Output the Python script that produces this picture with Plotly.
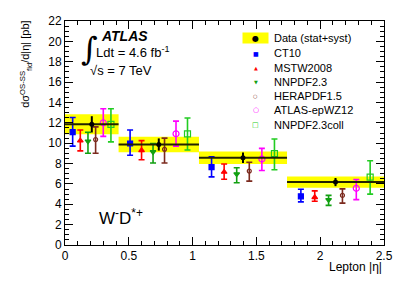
import plotly.graph_objects as go

# ---- data ----
bin_edges = [0.0, 0.42, 1.05, 1.74, 2.5]
data_vals = [11.85, 9.87, 8.57, 6.18]
data_stat = [0.80, 0.60, 0.52, 0.40]
data_total = [0.98, 0.77, 0.61, 0.55]

series_names = ["CT10", "MSTW2008", "NNPDF2.3", "HERAPDF1.5", "ATLAS-epWZ12", "NNPDF2.3coll"]
ct10 = [11.08, 9.97, 7.64, 4.78]
ct10_up = [12.52, 11.30, 8.66, 5.48]
ct10_dn = [9.71, 8.82, 6.69, 4.24]
mstw = [10.25, 9.30, 7.17, 4.68]
mstw_up = [11.30, 10.25, 7.96, 5.32]
mstw_dn = [9.24, 8.38, 6.46, 4.30]
nnpdf = [10.19, 9.14, 6.97, 4.43]
nnpdf_up = [11.08, 9.97, 7.58, 4.87]
nnpdf_dn = [9.01, 8.06, 6.11, 3.89]
hera = [10.35, 9.40, 7.26, 4.87]
hera_up = [11.60, 10.50, 8.12, 5.51]
hera_dn = [9.01, 8.06, 6.27, 4.11]
epwz = [12.00, 10.92, 8.44, 5.57]
epwz_up = [13.38, 12.17, 9.49, 6.43]
epwz_dn = [10.67, 9.71, 7.32, 4.46]
coll = [11.85, 10.92, 8.98, 6.66]
coll_up = [13.38, 12.48, 10.41, 8.28]
coll_dn = [10.13, 9.33, 7.39, 5.00]

x_tick_vals = [0, 0.5, 1, 1.5, 2, 2.5]
x_tick_text = ["0", "0.5", "1", "1.5", "2", "2.5"]
y_tick_vals = [0, 2, 4, 6, 8, 10, 12, 14, 16, 18, 20, 22]

# ---- layout (page body has an 8px default margin) ----
OFF = 8
W, H = 391, 276
L, T = 57, 6
R = W - (386 - OFF)
B = H - (245 - OFF)
pw, ph = W - L - R, H - T - B

def px(x):  # window pixel -> paper
    return (x - OFF - L) / pw

def py(y):
    return (H - B + OFF - y) / ph

centers = [(bin_edges[i] + bin_edges[i + 1]) / 2 for i in range(4)]
widths = [bin_edges[i + 1] - bin_edges[i] for i in range(4)]

fig = go.Figure()

# yellow total uncertainty band
fig.add_trace(go.Bar(
    x=centers, y=[2 * e for e in data_total],
    base=[v - e for v, e in zip(data_vals, data_total)],
    width=widths, marker=dict(color="#ffff00", line=dict(width=0)),
    showlegend=False, hoverinfo="skip"))

theory = [
    (ct10, ct10_up, ct10_dn, "#0000ff", "square", 5),
    (mstw, mstw_up, mstw_dn, "#ff0000", "triangle-up", 5),
    (nnpdf, nnpdf_up, nnpdf_dn, "#11a011", "triangle-down", 5),
    (hera, hera_up, hera_dn, "#7b2a1e", "circle-open", 4),
    (epwz, epwz_up, epwz_dn, "#ff00ff", "circle-open", 6),
    (coll, coll_up, coll_dn, "#22cc22", "square-open", 6),
]

for k, (vals, up, dn, col, sym, sz) in enumerate(theory):
    xs = [bin_edges[i] + (k + 1) * widths[i] / 7 for i in range(4)]
    fig.add_trace(go.Scatter(
        x=xs, y=vals, mode="markers", name=series_names[k],
        marker=dict(symbol=sym, color=col, size=sz, line=dict(color=col, width=1.2)),
        error_y=dict(type="data", symmetric=False,
                     array=[u - v for u, v in zip(up, vals)],
                     arrayminus=[v - d for v, d in zip(vals, dn)],
                     color=col, thickness=1.6, width=3),
        showlegend=False))

# data: horizontal line across bin + stat error bar
fig.add_trace(go.Scatter(
    x=centers, y=data_vals, mode="markers",
    marker=dict(symbol="circle", color="black", size=5),
    error_x=dict(type="data", array=[w / 2 for w in widths], color="#222200", thickness=2, width=0),
    error_y=dict(type="data", array=data_stat, color="black", thickness=2, width=0),
    showlegend=False))

font_main = "Liberation Sans, Arial, sans-serif"

axis_common = dict(
    showline=True, linecolor="black", linewidth=1, mirror="allticks",
    ticks="inside", tickcolor="black", ticklen=8, tickwidth=1,
    showgrid=False, zeroline=False,
    tickfont=dict(family=font_main, size=12, color="black"),
)

fig.update_xaxes(range=[0, 2.5], tickvals=x_tick_vals, ticktext=x_tick_text,
                 minor=dict(dtick=0.1, ticks="inside", ticklen=4, tickcolor="black", showgrid=False),
                 **axis_common)
fig.update_yaxes(range=[0, 22], tickvals=y_tick_vals,
                 minor=dict(dtick=0.5, ticks="inside", ticklen=4, tickcolor="black", showgrid=False),
                 **axis_common)

ann = []
# axis titles
ann.append(dict(text="dσ<sup>OS-SS</sup><sub>fid</sub>/d|η| [pb]", textangle=-90,
                x=px(25), y=py(12), xref="paper", yref="paper", xanchor="center", yanchor="top",
                showarrow=False, font=dict(family=font_main, size=11, color="black")))
ann.append(dict(text="Lepton |η|", x=1.0, y=py(268), xref="paper", yref="paper",
                xanchor="right", yanchor="middle", showarrow=False,
                font=dict(family=font_main, size=12, color="black")))
# ATLAS labels
ann.append(dict(text="<b><i>ATLAS</i></b>", x=px(99), y=py(29), xref="paper", yref="paper",
                xanchor="left", yanchor="middle", showarrow=False,
                font=dict(family=font_main, size=14, color="black")))
ann.append(dict(text="∫", x=px(79), y=py(43), xref="paper", yref="paper",
                xanchor="left", yanchor="middle", showarrow=False,
                font=dict(family="DejaVu Serif, serif", size=32, color="black")))
ann.append(dict(text="Ldt = 4.6 fb<sup>-1</sup>", x=px(94), y=py(46), xref="paper", yref="paper",
                xanchor="left", yanchor="middle", showarrow=False,
                font=dict(family=font_main, size=13, color="black")))
ann.append(dict(text="√s = 7 TeV", x=px(88), y=py(65), xref="paper", yref="paper",
                xanchor="left", yanchor="middle", showarrow=False,
                font=dict(family=font_main, size=13, color="black")))
ann.append(dict(text="W<sup>-</sup>D<sup>*+</sup>", x=px(97), y=py(216), xref="paper", yref="paper",
                xanchor="left", yanchor="middle", showarrow=False,
                font=dict(family=font_main, size=17, color="black")))

# legend (manual)
leg_y = [32, 47, 62, 77, 91, 106, 121]
ann.append(dict(text="●", x=px(257), y=py(leg_y[0]), xref="paper", yref="paper",
                xanchor="center", yanchor="middle", showarrow=False, width=25, height=10,
                bgcolor="#ffff00", borderpad=0,
                font=dict(family="DejaVu Sans", size=8, color="black")))
ann.append(dict(text="Data (stat+syst)", x=px(273), y=py(leg_y[0]), xref="paper", yref="paper",
                xanchor="left", yanchor="middle", showarrow=False,
                font=dict(family=font_main, size=11, color="black")))
leg_syms = ["■", "▲", "▼", "○", "○", "□"]
leg_cols = ["#0000ff", "#ff0000", "#11a011", "#7b2a1e", "#ff00ff", "#22cc22"]
leg_sizes = [6, 5, 5, 5, 7, 7]
for k in range(6):
    ann.append(dict(text=leg_syms[k], x=px(257), y=py(leg_y[k + 1]), xref="paper", yref="paper",
                    xanchor="center", yanchor="middle", showarrow=False,
                    font=dict(family="DejaVu Sans", size=leg_sizes[k], color=leg_cols[k])))
    ann.append(dict(text=series_names[k], x=px(273), y=py(leg_y[k + 1]), xref="paper", yref="paper",
                    xanchor="left", yanchor="middle", showarrow=False,
                    font=dict(family=font_main, size=11, color="black")))

fig.update_layout(
    width=W, height=H,
    margin=dict(l=L, r=R, t=T, b=B),
    paper_bgcolor="white", plot_bgcolor="white",
    annotations=ann, showlegend=False, barmode="overlay",
    font=dict(family=font_main, color="black"),
)

fig.write_html("out.html")
